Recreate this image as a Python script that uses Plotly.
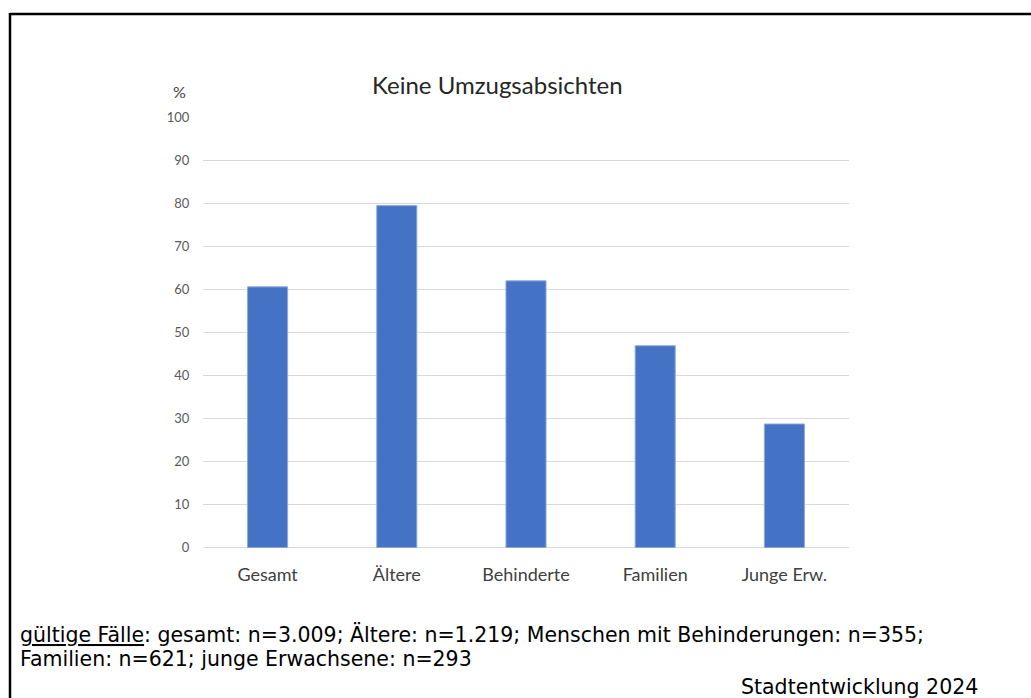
import plotly.graph_objects as go

categories = ["Gesamt", "Ältere", "Behinderte", "Familien", "Junge Erw."]
values = [60.7, 79.6, 62.1, 47.0, 28.8]
y_ticks = [0, 10, 20, 30, 40, 50, 60, 70, 80, 90, 100]

W, H = 1031, 698
px = lambda x: x / W
# vertical placement helper (pixel target -> paper fraction)
cy = lambda y: (y - 7) / 0.9805
py = lambda y: 1 - cy(y) / H

fig = go.Figure()
fig.add_trace(go.Bar(
    x=categories, y=values,
    marker=dict(color="#4472C4", line=dict(color="#8EA9DB", width=1)),
    width=0.31,
))

fig.update_layout(
    width=W, height=H,
    margin=dict(l=0, r=0, t=0, b=0),
    paper_bgcolor="white", plot_bgcolor="white",
    showlegend=False,
    font=dict(family="Lato, Open Sans, sans-serif"),
    xaxis=dict(
        domain=[px(203), px(849)],
        showgrid=False, showline=False, zeroline=False,
        ticks="outside", ticklen=11, tickcolor="rgba(0,0,0,0)",
        tickfont=dict(size=18, color="#404040", family="Lato"),
    ),
    yaxis=dict(
        domain=[py(548.7), py(117.3)],
        range=[0, 100], tickvals=y_ticks,
        showgrid=True, gridcolor="#D9D9D9", gridwidth=1,
        zeroline=True, zerolinecolor="#D9D9D9", zerolinewidth=1,
        showline=False,
        ticks="outside", ticklen=10, tickcolor="rgba(0,0,0,0)",
        tickfont=dict(size=13, color="#595959", family="Lato"),
    ),
)

note_font = dict(size=20.5, color="black", family="DejaVu Sans")
anns = [
    dict(x=px(497.5), y=py(84), text="Keine Umzugsabsichten",
         xanchor="center", yanchor="middle", font=dict(size=24, color="#262626", family="Lato")),
    dict(x=px(179), y=py(91), text="%",
         xanchor="center", yanchor="middle", font=dict(size=16, color="#404040", family="Lato")),
    dict(x=px(18), y=py(636), text='<span style="text-decoration:underline">gültige Fälle</span>: gesamt: n=3.009; Ältere: n=1.219; Menschen mit Behinderungen: n=355;',
         xanchor="left", yanchor="middle", font=note_font),
    dict(x=px(18), y=py(660), text="Familien: n=621; junge Erwachsene: n=293",
         xanchor="left", yanchor="middle", font=note_font),
    dict(x=px(980), y=py(688), text="Stadtentwicklung 2024",
         xanchor="right", yanchor="middle", font=note_font),
]
for a in anns:
    a.update(xref="paper", yref="paper", showarrow=False)
fig.update_layout(annotations=anns)

fig.add_shape(type="line", xref="paper", yref="paper", x0=px(10), x1=px(1040), y0=py(13), y1=py(13),
              line=dict(color="black", width=2.5))
fig.add_shape(type="line", xref="paper", yref="paper", x0=px(10), x1=px(10), y0=py(12), y1=py(720),
              line=dict(color="black", width=2.5))

fig.write_html("out.html", config={"displayModeBar": False},
               post_script="document.body.style.margin='0';document.body.style.overflow='hidden';")
